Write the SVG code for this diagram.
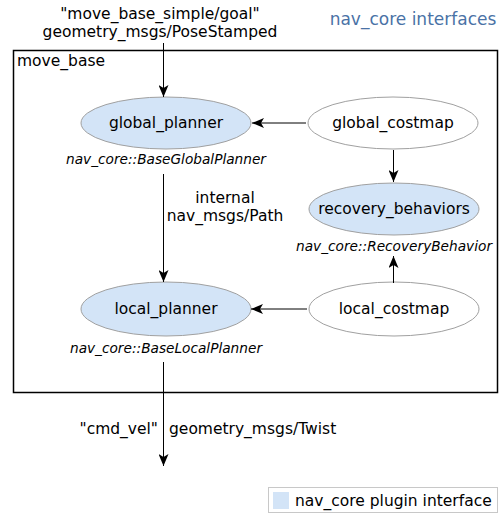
<svg xmlns="http://www.w3.org/2000/svg" width="499" height="513" viewBox="0 0 499 513">
<style>
text{font-family:"DejaVu Sans",sans-serif;font-size:15.5px;fill:#000}
.it{font-style:italic;font-size:13.7px}
.plug{fill:#d3e4f7;stroke:#a0a0a0;stroke-width:1}
.plain{fill:#fff;stroke:#a0a0a0;stroke-width:1}
.edge{stroke:#000;stroke-width:1;fill:none;marker-end:url(#ah)}
</style>
<defs>
<marker id="ah" viewBox="0 0 12 10" refX="12" refY="5" markerWidth="12" markerHeight="10" markerUnits="userSpaceOnUse" orient="auto">
<path d="M0,0 L12,5 L0,10 L3,5 Z" fill="#000"/>
</marker>
</defs>
<rect x="0" y="0" width="499" height="513" fill="#fff"/>
<text x="413" y="25" text-anchor="middle" style="fill:#4a72a6;font-size:17px">nav_core interfaces</text>
<text x="160" y="19" text-anchor="middle">"move_base_simple/goal"</text>
<text x="160" y="37" text-anchor="middle">geometry_msgs/PoseStamped</text>
<g id="move_base">
<rect x="13.5" y="50.5" width="484" height="342" fill="none" stroke="#000" stroke-width="1.5"/>
<text x="17" y="66">move_base</text>
</g>
<g id="global_planner">
<ellipse class="plug" cx="166" cy="123" rx="85" ry="26"/>
<text x="166" y="128" text-anchor="middle">global_planner</text>
<text class="it" x="166" y="164" text-anchor="middle">nav_core::BaseGlobalPlanner</text>
</g>
<g id="global_costmap">
<ellipse class="plain" cx="393" cy="123" rx="85" ry="26"/>
<text x="393" y="128" text-anchor="middle">global_costmap</text>
</g>
<g id="recovery_behaviors">
<ellipse class="plug" cx="394" cy="209" rx="85" ry="26"/>
<text x="394" y="214" text-anchor="middle">recovery_behaviors</text>
<text class="it" x="394" y="251" text-anchor="middle">nav_core::RecoveryBehavior</text>
</g>
<g id="local_planner">
<ellipse class="plug" cx="166" cy="309" rx="85" ry="27"/>
<text x="166" y="314" text-anchor="middle">local_planner</text>
<text class="it" x="166" y="353" text-anchor="middle">nav_core::BaseLocalPlanner</text>
</g>
<g id="local_costmap">
<ellipse class="plain" cx="394" cy="309" rx="85" ry="27"/>
<text x="394" y="314" text-anchor="middle">local_costmap</text>
</g>
<g id="connectors">
<line class="edge" x1="163.5" y1="43" x2="163.5" y2="97"/>
<line class="edge" x1="306" y1="123" x2="252" y2="123"/>
<line class="edge" x1="393.5" y1="150" x2="393.5" y2="182"/>
<line class="edge" x1="393.5" y1="283" x2="393.5" y2="256"/>
<line class="edge" x1="307" y1="309" x2="251" y2="309"/>
<line class="edge" x1="163.5" y1="174" x2="163.5" y2="282"/>
<line class="edge" x1="163.5" y1="362" x2="163.5" y2="466"/>
<text x="225" y="203" text-anchor="middle">internal</text>
<text x="225" y="221" text-anchor="middle">nav_msgs/Path</text>
<text x="158" y="434" text-anchor="end">"cmd_vel"</text>
<text x="169" y="434">geometry_msgs/Twist</text>
</g>
<g id="legend">
<rect x="268.5" y="487.5" width="229" height="25" fill="#fff" stroke="#c8c8c8"/>
<rect x="273" y="492" width="16" height="17" fill="#d3e4f7"/>
<text x="295" y="506">nav_core plugin interface</text>
</g>
</svg>
